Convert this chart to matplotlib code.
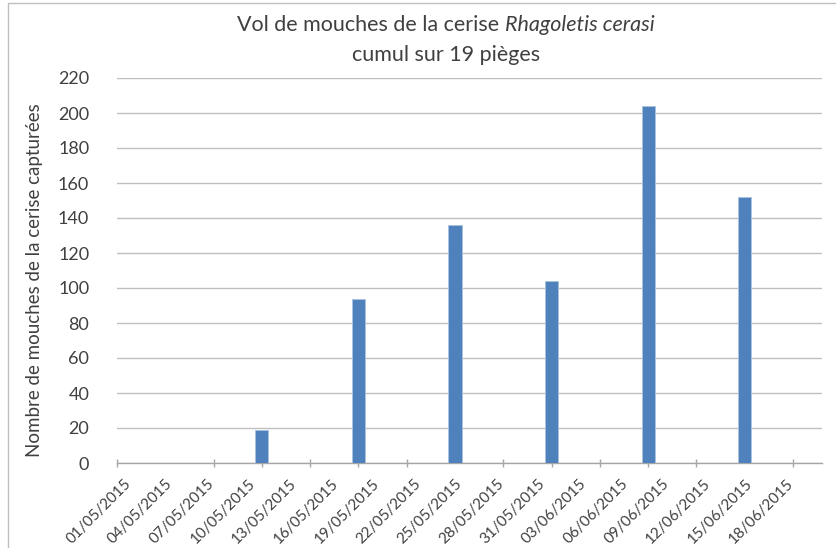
import matplotlib.pyplot as plt
import matplotlib.dates as mdates
from matplotlib.patches import Rectangle
from datetime import datetime, timedelta

# releves hebdomadaires (cumul 19 pieges)
dates = ["11/05/2015", "18/05/2015", "25/05/2015", "01/06/2015", "08/06/2015", "15/06/2015"]
captures = [19, 94, 136, 104, 204, 152]

# etiquettes de l'axe des dates (tous les 3 jours)
label_start = "01/05/2015"
label_count = 17

plt.rcParams['font.family'] = ['Lato', 'DejaVu Sans']
txt = '#404040'

d = [datetime.strptime(s, "%d/%m/%Y") for s in dates]
d0 = datetime.strptime(label_start, "%d/%m/%Y")
lab_dates = [d0 + timedelta(days=3 * i) for i in range(label_count)]

fig = plt.figure(figsize=(8.36, 5.48), dpi=100)
ax = fig.add_axes([117 / 836, 1 - 463 / 548, (822 - 117) / 836, (463 - 78) / 548])

ax.bar(d, captures, width=0.95, color='#4F81BD', edgecolor='#A9C2E0', linewidth=0.7, zorder=3)

xmin = d0 - timedelta(hours=12)
ax.set_xlim(xmin, xmin + timedelta(days=51.1))
ax.set_ylim(0, 220)
ax.set_yticks(range(0, 221, 20))
ax.grid(axis='y', color='#BFBFBF', linewidth=1, zorder=0)

# marques de graduation tous les 3,5 jours, etiquettes tous les 3 jours
ax.set_xticks(lab_dates)
ax.set_xticklabels([x.strftime("%d/%m/%Y") for x in lab_dates], rotation=45,
                   ha='right', rotation_mode='anchor', fontsize=11, color=txt)
ax.tick_params(axis='x', which='major', length=0, pad=10)
ax.set_xticks([xmin + timedelta(days=3.5 * i) for i in range(15)], minor=True)
ax.tick_params(axis='x', which='minor', length=6, direction='inout', color='#A6A6A6', width=1)
ax.tick_params(axis='y', length=0, pad=20, labelsize=13, labelcolor=txt)

for s in ['top', 'right', 'left']:
    ax.spines[s].set_visible(False)
ax.spines['bottom'].set_color('#A6A6A6')
ax.spines['bottom'].set_linewidth(1)

fig.text(35 / 836, 1 - 280 / 548, "Nombre de mouches de la cerise capturées", rotation=90,
         ha='center', va='center', fontsize=13.5, color=txt)

# titre avec le nom latin en italique
t1 = fig.text(0, 1 - 25 / 548, "Vol de mouches de la cerise ", ha='left', va='center',
              fontsize=15.5, color=txt)
t2 = fig.text(0, 1 - 25 / 548, "Rhagoletis cerasi", ha='left', va='center',
              fontsize=15.5, style='italic', color=txt)
r = fig.canvas.get_renderer()
w1 = t1.get_window_extent(r).width
w2 = t2.get_window_extent(r).width
cx = 446
t1.set_x((cx - (w1 + w2) / 2) / 836)
t2.set_x((cx - (w1 + w2) / 2 + w1) / 836)
fig.text(cx / 836, 1 - 55 / 548, "cumul sur 19 pièges", ha='center', va='center',
         fontsize=15.5, color=txt)

fig.patches.append(Rectangle((8 / 836, -0.1), 1.1, 1 - 3 / 548 + 0.1, transform=fig.transFigure,
                             fill=False, edgecolor='#BFBFBF', linewidth=1))

fig.savefig("out.png", dpi=100)
